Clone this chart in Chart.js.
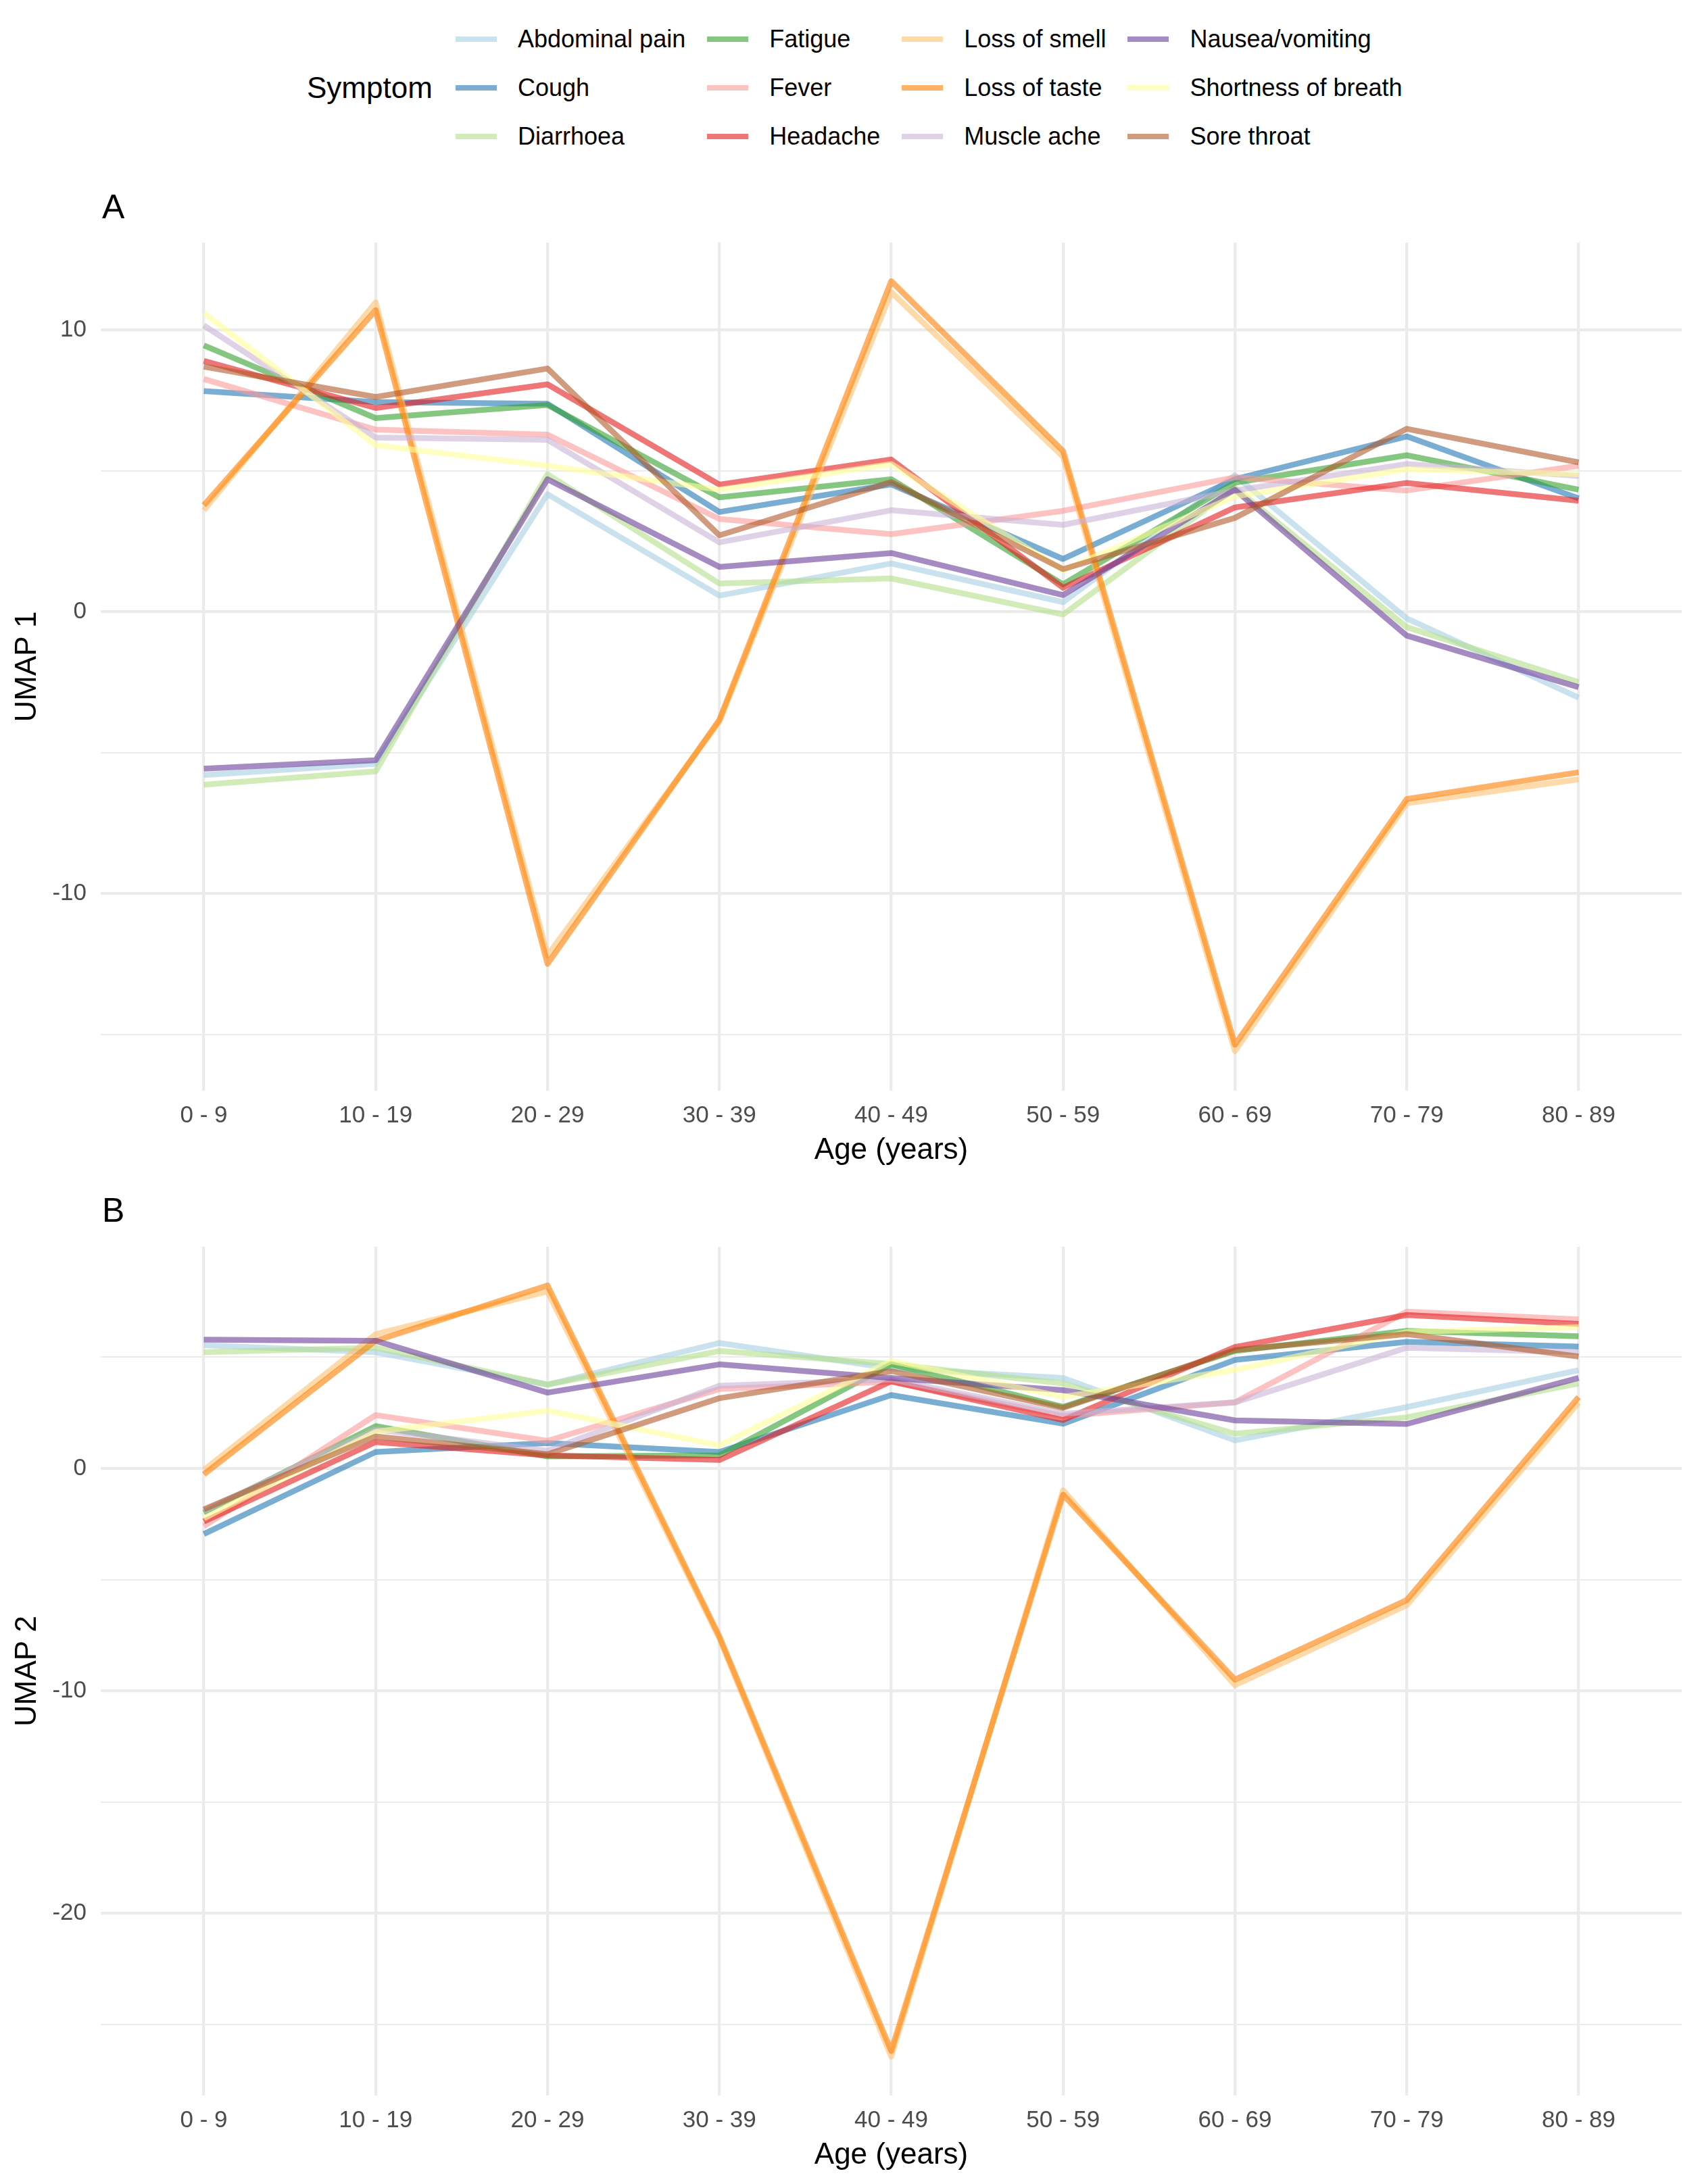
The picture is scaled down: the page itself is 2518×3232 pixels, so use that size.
<!DOCTYPE html>
<html>
<head>
<meta charset="utf-8">
<script src="https://cdn.jsdelivr.net/npm/chart.js@4.4.0/dist/chart.umd.min.js"></script>
<style>
body { margin: 0; width: 2518px; height: 3232px; background: #fff; position: relative; overflow: hidden;
	font-family: "Liberation Sans", Arial, sans-serif; color: #000; }
#legend-title { position: absolute; left: 454px; top: 104px; font-size: 44px; line-height: 52px; }
#legend { position: absolute; left: 674px; top: 22px; display: grid; grid-template-rows: repeat(3, 72px);
	grid-auto-flow: column; column-gap: 32px; }
.item { display: flex; align-items: center; height: 72px; font-size: 36px; white-space: nowrap; }
.key { width: 61px; height: 8.5px; margin-right: 31px; }
.tag { position: absolute; left: 151px; font-size: 50px; line-height: 50px; }
.panel { position: absolute; left: 0; width: 2518px; }
</style>
</head>
<body>
<div id="legend-title">Symptom</div>
<div id="legend"></div>
<div class="tag" style="top:281px">A</div>
<div class="tag" style="top:1766px">B</div>
<div class="panel" style="top:349px;height:1385px"><canvas id="umap1"></canvas></div>
<div class="panel" style="top:1835px;height:1386px"><canvas id="umap2"></canvas></div>
<script>
var ageGroups = ['0 - 9', '10 - 19', '20 - 29', '30 - 39', '40 - 49', '50 - 59', '60 - 69', '70 - 79', '80 - 89']

var symptoms = ['Abdominal pain', 'Cough', 'Diarrhoea', 'Fatigue', 'Fever', 'Headache',
	'Loss of smell', 'Loss of taste', 'Muscle ache', 'Nausea/vomiting', 'Shortness of breath', 'Sore throat']

// ColorBrewer "Paired"
var colours = ['#A6CEE3', '#1F78B4', '#B2DF8A', '#33A02C', '#FB9A99', '#E31A1C',
	'#FDBF6F', '#FF7F00', '#CAB2D6', '#6A3D9A', '#FFFF99', '#B15928']

// UMAP 1 by age group
var abdominalPain1 = [-5.8, -5.4, 4.17, 0.57, 1.71, 0.34, 4.84, -0.24, -3.05]
var cough1 = [7.83, 7.44, 7.38, 3.54, 4.52, 1.87, 4.7, 6.22, 4.02]
var diarrhoea1 = [-6.14, -5.67, 4.88, 1.0, 1.18, -0.1, 4.4, -0.55, -2.5]
var fatigue1 = [9.45, 6.87, 7.34, 4.06, 4.7, 0.97, 4.58, 5.55, 4.33]
var fever1 = [8.26, 6.46, 6.28, 3.29, 2.75, 3.58, 4.77, 4.3, 5.18]
var headache1 = [8.9, 7.23, 8.07, 4.51, 5.4, 0.85, 3.7, 4.57, 3.94]
var lossOfSmell1 = [3.6, 10.98, -12.2, -3.9, 11.34, 5.5, -15.6, -6.8, -5.95]
var lossOfTaste1 = [3.78, 10.7, -12.5, -3.84, 11.73, 5.7, -15.37, -6.65, -5.7]
var muscleAche1 = [10.16, 6.18, 6.1, 2.46, 3.6, 3.08, 4.3, 5.24, 4.82]
var nausea1 = [-5.57, -5.27, 4.7, 1.59, 2.08, 0.59, 4.33, -0.85, -2.68]
var breath1 = [10.6, 5.91, 5.18, 4.33, 5.24, 1.47, 4.09, 5.06, 4.88]
var soreThroat1 = [8.7, 7.62, 8.63, 2.71, 4.6, 1.51, 3.33, 6.49, 5.3]

// UMAP 2 by age group
var abdominalPain2 = [5.54, 5.23, 3.77, 5.64, 4.5, 4.07, 1.26, 2.76, 4.42]
var cough2 = [-2.95, 0.74, 1.14, 0.74, 3.3, 2.01, 4.88, 5.69, 5.48]
var diarrhoea2 = [5.23, 5.43, 3.77, 5.28, 4.7, 3.82, 1.56, 2.3, 3.82]
var fatigue2 = [-1.99, 1.9, 0.54, 0.59, 4.68, 2.77, 5.28, 6.19, 5.94]
var fever2 = [-2.6, 2.4, 1.24, 3.57, 3.9, 2.36, 2.97, 7.05, 6.7]
var headache2 = [-2.39, 1.19, 0.59, 0.38, 3.92, 2.18, 5.46, 6.9, 6.5]
var lossOfSmell2 = [-0.07, 6.04, 7.96, -7.65, -26.45, -0.98, -9.75, -6.15, 2.96]
var lossOfTaste2 = [-0.27, 5.74, 8.23, -7.55, -26.2, -1.18, -9.5, -5.92, 3.21]
var muscleAche2 = [-1.9, 1.75, 0.79, 3.72, 4.0, 2.46, 2.97, 5.43, 5.23]
var nausea2 = [5.79, 5.74, 3.41, 4.68, 4.07, 3.52, 2.16, 2.0, 4.07]
var breath2 = [-2.24, 1.65, 2.6, 1.04, 4.83, 3.22, 4.43, 6.14, 6.35]
var soreThroat2 = [-1.84, 1.44, 0.64, 3.16, 4.38, 2.72, 5.33, 6.04, 5.03]

var umap1Series = [abdominalPain1, cough1, diarrhoea1, fatigue1, fever1, headache1,
	lossOfSmell1, lossOfTaste1, muscleAche1, nausea1, breath1, soreThroat1]
var umap2Series = [abdominalPain2, cough2, diarrhoea2, fatigue2, fever2, headache2,
	lossOfSmell2, lossOfTaste2, muscleAche2, nausea2, breath2, soreThroat2]

var umap1Ticks = [-15, -10, -5, 0, 5, 10]
var umap2Ticks = [-25, -20, -15, -10, -5, 0, 5]

Chart.defaults.font.family = '"Liberation Sans", Arial, sans-serif'

function fade(hex, a) {
	var r = parseInt(hex.substr(1, 2), 16)
	var g = parseInt(hex.substr(3, 2), 16)
	var b = parseInt(hex.substr(5, 2), 16)
	return 'rgba(' + r + ',' + g + ',' + b + ',' + a + ')'
}

function buildLegend() {
	var box = document.getElementById('legend')
	for (var i = 0; i < symptoms.length; i++) {
		var item = document.createElement('div')
		item.className = 'item'
		var key = document.createElement('span')
		key.className = 'key'
		key.style.background = fade(colours[i], 0.6)
		item.appendChild(key)
		item.appendChild(document.createTextNode(symptoms[i]))
		box.appendChild(item)
	}
}

// keep the plot area fixed: no extra room for labels hanging past the ends
function noLabelPadding(scale) {
	scale.paddingTop = 0
	scale.paddingBottom = 0
	scale.paddingLeft = 0
	scale.paddingRight = 0
}

function createPanel(canvasId, yTitle, series, yMin, yMax, yTicks) {
	var datasets = []
	for (var i = 0; i < series.length; i++) {
		datasets.push({
			label: symptoms[i],
			data: series[i].map(function(v, j) { return {x: j, y: v} }),
			borderColor: fade(colours[i], 0.6),
			borderWidth: 8.5,
			borderJoinStyle: 'round',
			pointRadius: 0,
			tension: 0,
			fill: false,
			// later symptoms drawn on top, like ggplot
			order: series.length - i
		})
	}

	var ctx = document.getElementById(canvasId).getContext('2d')
	return new Chart(ctx, {
		type: 'line',
		data: { datasets: datasets },
		options: {
			responsive: true,
			maintainAspectRatio: false,
			animation: false,
			events: [],
			layout: { padding: { top: 10, right: 30, left: 0, bottom: 0 } },
			plugins: {
				legend: { display: false },
				tooltip: { enabled: false }
			},
			scales: {
				x: {
					type: 'linear',
					min: -0.6,
					max: 8.6,
					afterBuildTicks: function(scale) {
						scale.ticks = ageGroups.map(function(g, i) { return {value: i} })
					},
					afterFit: function(scale) {
						scale.height = 120
						noLabelPadding(scale)
					},
					border: { display: false },
					grid: { color: '#EBEBEB', lineWidth: 4.3, drawTicks: false },
					ticks: {
						autoSkip: false,
						maxRotation: 0,
						minRotation: 0,
						padding: 16,
						color: '#4D4D4D',
						font: { size: 35 },
						callback: function(v) { return ageGroups[v] }
					},
					title: {
						display: true,
						text: 'Age (years)',
						color: '#000',
						font: { size: 44 },
						padding: { top: 0, bottom: 5 }
					}
				},
				y: {
					type: 'linear',
					min: yMin,
					max: yMax,
					afterBuildTicks: function(scale) {
						scale.ticks = yTicks.map(function(v) { return {value: v} })
					},
					afterFit: function(scale) {
						scale.width = 149
						noLabelPadding(scale)
					},
					border: { display: false },
					grid: {
						color: '#EBEBEB',
						drawTicks: false,
						lineWidth: function(c) {
							return c.tick && c.tick.value % 10 === 0 ? 4.3 : 2.1
						}
					},
					ticks: {
						padding: 21,
						color: '#4D4D4D',
						font: { size: 35 },
						callback: function(v) { return v % 10 === 0 ? String(v) : '' }
					},
					title: {
						display: true,
						text: yTitle,
						color: '#000',
						font: { size: 44 },
						padding: { top: 14, bottom: 0 }
					}
				}
			}
		}
	})
}

buildLegend()
createPanel('umap1', 'UMAP 1', umap1Series, -17.0, 13.1, umap1Ticks)
createPanel('umap2', 'UMAP 2', umap2Series, -28.2, 9.97, umap2Ticks)
</script>
</body>
</html>
